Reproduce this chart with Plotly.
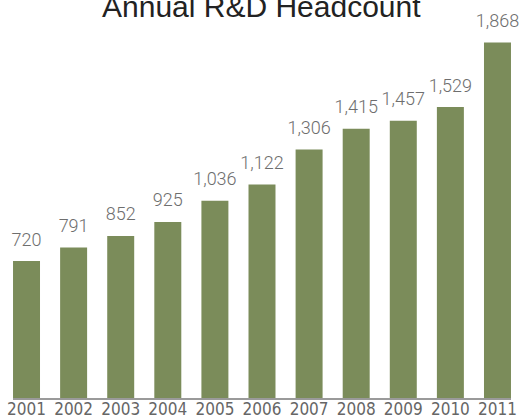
import plotly.graph_objects as go

years = ["2001", "2002", "2003", "2004", "2005", "2006", "2007", "2008", "2009", "2010", "2011"]
headcount = [720, 791, 852, 925, 1036, 1122, 1306, 1415, 1457, 1529, 1868]
labels = [f"{v:,}" for v in headcount]

W, H = 531, 419
ml, mr, mt, mb = 13, 20, 30, 21
pw = W - ml - mr
ph = H - mt - mb

fig = go.Figure()
fig.add_trace(go.Bar(
    x=years, y=headcount,
    marker=dict(color="#7b8c5a", line=dict(width=0)),
    hoverinfo="skip",
))

fig.add_trace(go.Scatter(
    x=years, y=headcount, mode="markers+text", text=labels, textposition="top center",
    marker=dict(size=16, opacity=0),
    textfont=dict(family="Roboto", size=18, color="#6e6e6e", weight=300),
    hoverinfo="skip", cliponaxis=False,
))

fig.add_annotation(x=(261 - ml) / pw, y=1 + (mt - 6.5) / ph, xref="paper", yref="paper",
                   text="Annual R&D Headcount", showarrow=False,
                   yanchor="middle", xanchor="center",
                   font=dict(family="Liberation Sans, Arial", size=30, color="#222222"))

fig.update_layout(
    width=W, height=H,
    margin=dict(l=ml, r=mr, t=mt, b=mb, pad=0, autoexpand=False),
    paper_bgcolor="white", plot_bgcolor="white",
    bargap=0.427,
    showlegend=False,
    xaxis=dict(type="category", range=[-0.287, 10.287], showgrid=False, showline=True,
               linecolor="#9a9a9a", linewidth=1.5, ticks="", automargin=False,
               ticklabelstandoff=-5,
               tickfont=dict(family="Liberation Sans Narrow, DejaVu Sans Condensed", size=17, color="#666666"),
               fixedrange=True),
    yaxis=dict(range=[0, 1934], visible=False, fixedrange=True, automargin=False),
)

fig.write_html("out.html", config={"displayModeBar": False},
               post_script="document.body.style.margin='0';")
